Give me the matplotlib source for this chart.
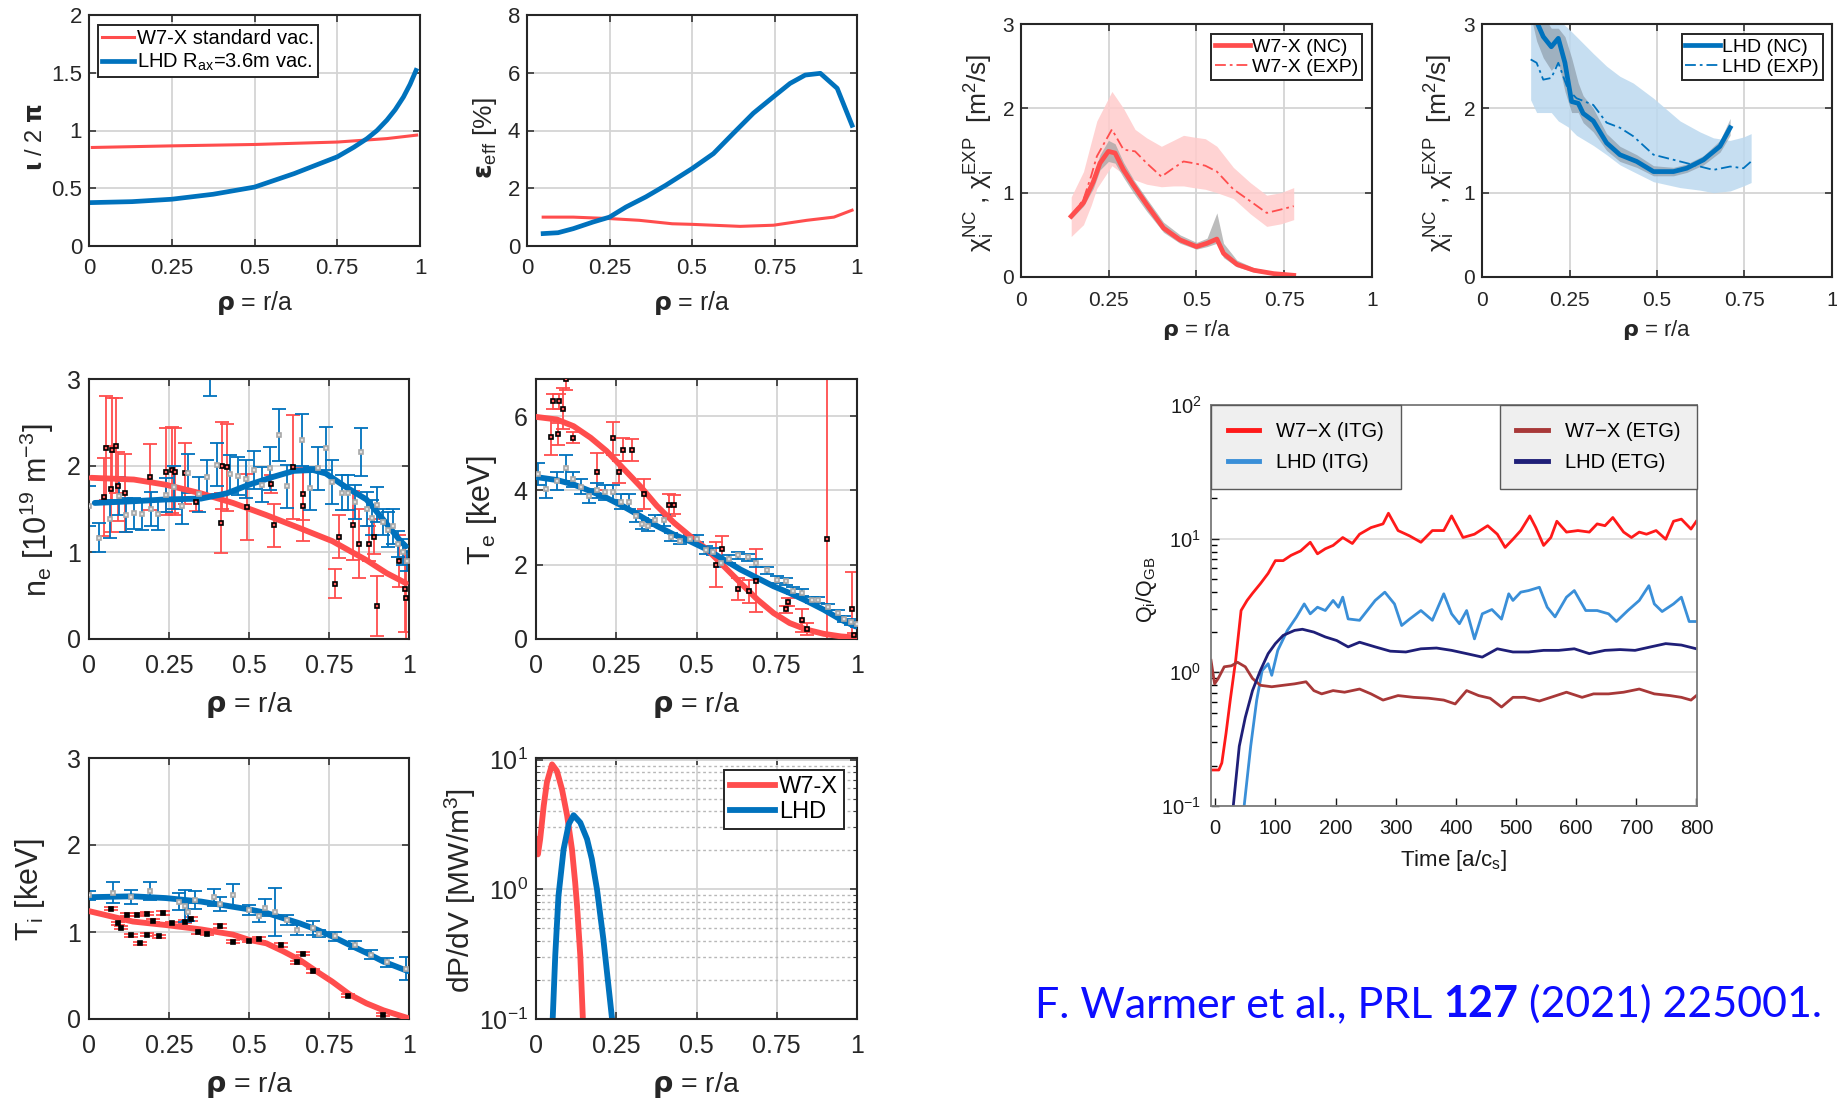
import matplotlib
matplotlib.use("Agg")
import matplotlib.pyplot as plt
from matplotlib.offsetbox import TextArea, HPacker, AnchoredOffsetbox
from matplotlib.ticker import LogLocator, NullFormatter

plt.rcParams['font.family'] = ['Liberation Sans', 'DejaVu Sans']
plt.rcParams['mathtext.default'] = 'regular'

# ---------------------------------------------------------------- data
# rotational transform
rho_iota_w7x = [0.01, 0.25, 0.5, 0.75, 0.9, 0.99]
iota_w7x = [0.853, 0.867, 0.879, 0.90, 0.93, 0.96]
rho_iota_lhd = [0.01, 0.13, 0.25, 0.375, 0.5, 0.62, 0.75, 0.8, 0.84, 0.87, 0.9, 0.925, 0.95, 0.97, 0.988]
iota_lhd = [0.376, 0.384, 0.405, 0.448, 0.51, 0.627, 0.772, 0.855, 0.93, 1.0, 1.09, 1.18, 1.29, 1.40, 1.52]

# effective ripple
rho_eps = [0.049, 0.094, 0.14, 0.2, 0.25, 0.30, 0.36, 0.42, 0.50, 0.565, 0.625, 0.686, 0.747, 0.797, 0.843, 0.889, 0.94, 0.985]
eps_lhd = [0.43, 0.46, 0.6, 0.83, 1.0, 1.35, 1.7, 2.1, 2.68, 3.2, 3.9, 4.6, 5.17, 5.63, 5.92, 5.98, 5.46, 4.18]
rho_eps_w7x = [0.049, 0.14, 0.25, 0.34, 0.44, 0.5, 0.646, 0.747, 0.848, 0.93, 0.985]
eps_w7x = [1.0, 1.0, 0.95, 0.89, 0.77, 0.75, 0.68, 0.72, 0.89, 1.0, 1.24]

# electron density
rho_ne_fit_w7x = [0.007, 0.14, 0.24, 0.35, 0.45, 0.554, 0.658, 0.76, 0.867, 0.93, 0.99]
ne_fit_w7x = [1.86, 1.84, 1.78, 1.68, 1.57, 1.43, 1.28, 1.13, 0.91, 0.76, 0.645]
rho_ne_fit_lhd = [0.018, 0.14, 0.24, 0.35, 0.43, 0.5, 0.575, 0.64, 0.7, 0.74, 0.8, 0.867, 0.92, 0.97, 0.99]
ne_fit_lhd = [1.57, 1.59, 1.61, 1.62, 1.68, 1.78, 1.87, 1.94, 1.95, 1.91, 1.76, 1.61, 1.375, 1.145, 1.07]
rho_ne_w7x = [0.046, 0.052, 0.07, 0.072, 0.083, 0.09, 0.114, 0.19, 0.24, 0.26, 0.27, 0.30, 0.333,
              0.411, 0.415, 0.43, 0.494, 0.57, 0.577, 0.637, 0.67, 0.67, 0.77, 0.78, 0.825, 0.845,
              0.875, 0.89, 0.90, 0.97, 0.986, 0.99]
ne_w7x = [1.64, 2.2, 1.73, 2.18, 2.23, 1.76, 1.69, 1.87, 1.93, 1.95, 1.93, 1.91, 1.58,
          1.34, 2.0, 1.98, 1.52, 1.79, 1.31, 1.98, 1.67, 1.53, 0.64, 1.18, 1.31, 1.1,
          1.1, 1.18, 0.38, 0.9, 0.58, 0.47]
ne_err_w7x = [0.45, 0.6, 0.5, 0.6, 0.55, 0.4, 0.45, 0.38, 0.5, 0.5, 0.5, 0.35, 0.1,
              0.35, 0.5, 0.5, 0.38, 0.1, 0.25, 0.6, 0.3, 0.4, 0.17, 0.25, 0.4, 0.4,
              0.2, 0.2, 0.35, 0.3, 0.5, 0.47]
rho_ne_lhd = [0.0, 0.03, 0.065, 0.095, 0.115, 0.14, 0.165, 0.195, 0.215, 0.24, 0.265, 0.29, 0.31,
              0.345, 0.37, 0.378, 0.40, 0.44, 0.465, 0.49, 0.515, 0.54, 0.565, 0.595, 0.62, 0.665,
              0.69, 0.715, 0.74, 0.76, 0.79, 0.81, 0.83, 0.85, 0.87, 0.885, 0.90, 0.92, 0.935,
              0.95, 0.965, 0.98, 0.995]
ne_lhd = [1.53, 1.17, 1.38, 1.65, 1.43, 1.45, 1.44, 1.5, 1.44, 1.66, 1.75, 1.53, 1.91,
          1.67, 1.87, 3.2, 2.01, 1.9, 1.88, 1.85, 1.95, 1.78, 1.97, 2.35, 1.76, 2.3,
          1.74, 1.97, 2.2, 1.81, 1.69, 1.69, 1.58, 2.16, 1.5, 1.4, 1.55, 1.35, 1.26,
          1.3, 1.1, 1.0, 0.9]
ne_err_lhd = [0.23, 0.17, 0.22, 0.22, 0.2, 0.18, 0.18, 0.2, 0.18, 0.2, 0.25, 0.2, 0.22,
              0.2, 0.2, 0.4, 0.25, 0.22, 0.22, 0.22, 0.22, 0.2, 0.25, 0.3, 0.25, 0.3,
              0.25, 0.25, 0.25, 0.25, 0.2, 0.2, 0.2, 0.28, 0.2, 0.2, 0.2, 0.15, 0.2,
              0.2, 0.15, 0.15, 0.12]

# electron temperature
rho_te_fit = [0.0, 0.065, 0.117, 0.17, 0.22, 0.27, 0.325, 0.377, 0.43, 0.48, 0.533, 0.585, 0.637,
              0.69, 0.74, 0.79, 0.844, 0.896, 0.95, 0.995]
te_fit_w7x = [5.98, 5.91, 5.73, 5.42, 5.06, 4.61, 4.11, 3.58, 3.13, 2.77, 2.41, 1.96, 1.51,
              1.06, 0.70, 0.43, 0.25, 0.14, 0.07, 0.04]
te_fit_lhd = [4.36, 4.28, 4.16, 3.98, 3.8, 3.58, 3.31, 3.04, 2.81, 2.63, 2.41, 2.14, 1.87,
              1.64, 1.42, 1.24, 1.02, 0.79, 0.52, 0.34]
rho_te_w7x = [0.048, 0.052, 0.07, 0.072, 0.085, 0.092, 0.115, 0.19, 0.24, 0.26, 0.27, 0.30, 0.335,
              0.415, 0.43, 0.56, 0.58, 0.63, 0.665, 0.685, 0.78, 0.785, 0.83, 0.845, 0.905,
              0.985, 0.99]
te_w7x = [5.45, 6.4, 5.52, 6.4, 6.2, 7.0, 5.42, 4.5, 5.4, 4.49, 5.1, 5.08, 3.9,
          3.6, 3.62, 2.0, 2.42, 1.35, 1.28, 1.57, 0.8, 1.0, 0.5, 0.27, 2.7,
          0.8, 0.1]
te_err_w7x = [0.5, 0.2, 0.3, 0.2, 0.55, 0.3, 0.15, 0.5, 0.45, 0.3, 0.3, 0.3, 0.4,
              0.3, 0.25, 0.6, 0.35, 0.3, 0.3, 0.85, 0.1, 0.1, 0.3, 0.15, 4.5,
              1.0, 0.05]
rho_te_lhd = [0.005, 0.03, 0.065, 0.095, 0.115, 0.14, 0.165, 0.19, 0.215, 0.24, 0.265, 0.29, 0.31,
              0.33, 0.35, 0.37, 0.40, 0.42, 0.45, 0.48, 0.50, 0.53, 0.55, 0.575, 0.60, 0.63,
              0.66, 0.685, 0.72, 0.75, 0.78, 0.80, 0.83, 0.86, 0.88, 0.91, 0.94, 0.96, 0.98, 1.0]
te_lhd = [4.45, 4.05, 4.25, 4.6, 4.3, 4.1, 3.85, 4.0, 3.95, 3.95, 3.7, 3.7, 3.3,
          3.1, 3.05, 3.2, 3.2, 2.75, 2.65, 2.7, 2.7, 2.4, 2.35, 2.05, 2.15, 2.25,
          2.2, 2.05, 1.85, 1.6, 1.55, 1.3, 1.25, 1.05, 1.05, 0.85, 0.7, 0.55, 0.45, 0.4]
te_err_lhd = [0.3, 0.25, 0.25, 0.35, 0.2, 0.2, 0.2, 0.2, 0.2, 0.2, 0.2, 0.2, 0.15,
              0.15, 0.15, 0.15, 0.15, 0.1, 0.1, 0.1, 0.1, 0.1, 0.1, 0.1, 0.1, 0.1,
              0.1, 0.1, 0.1, 0.1, 0.1, 0.1, 0.1, 0.08, 0.08, 0.08, 0.08, 0.08, 0.08, 0.08]

# ion temperature
rho_ti_fit = [0.0, 0.1375, 0.24, 0.35, 0.45, 0.5, 0.554, 0.606, 0.658, 0.71, 0.76, 0.815, 0.867, 0.92, 0.997]
ti_fit_w7x = [1.24, 1.12, 1.08, 1.03, 0.97, 0.91, 0.87, 0.78, 0.68, 0.55, 0.43, 0.28, 0.18, 0.1, 0.01]
ti_fit_lhd = [1.40, 1.41, 1.39, 1.35, 1.29, 1.26, 1.22, 1.16, 1.10, 1.03, 0.95, 0.85, 0.76, 0.66, 0.55]
rho_ti_w7x = [0.07, 0.09, 0.10, 0.12, 0.13, 0.15, 0.16, 0.18, 0.18, 0.2, 0.22, 0.23, 0.26, 0.3,
              0.32, 0.34, 0.37, 0.41, 0.45, 0.5, 0.53, 0.6, 0.65, 0.67, 0.7, 0.81, 0.92]
ti_w7x = [1.27, 1.1, 1.05, 1.2, 0.96, 1.2, 0.87, 0.97, 1.21, 1.13, 0.95, 1.22, 1.1, 1.12,
          1.15, 1.0, 0.98, 1.07, 0.89, 0.9, 0.92, 0.85, 0.65, 0.75, 0.55, 0.27, 0.05]
ti_err_w7x = [0.02] * len(ti_w7x)
rho_ti_lhd = [0.0, 0.075, 0.13, 0.19, 0.28, 0.30, 0.31, 0.33, 0.39, 0.41, 0.45, 0.5, 0.53, 0.55,
              0.58, 0.62, 0.65, 0.7, 0.72, 0.77, 0.83, 0.88, 0.93, 0.99]
ti_lhd = [1.42, 1.45, 1.4, 1.47, 1.35, 1.3, 1.23, 1.37, 1.4, 1.32, 1.42, 1.25, 1.18, 1.28,
          1.23, 1.14, 1.02, 1.05, 0.98, 0.95, 0.85, 0.74, 0.65, 0.58]
ti_err_lhd = [0.05, 0.12, 0.08, 0.1, 0.1, 0.18, 0.1, 0.1, 0.1, 0.08, 0.13, 0.06, 0.06, 0.1,
              0.28, 0.06, 0.06, 0.08, 0.04, 0.05, 0.05, 0.05, 0.05, 0.13]

# heating power density
rho_p_w7x = [0.0, 0.006, 0.013, 0.024, 0.034, 0.05, 0.065, 0.081, 0.097, 0.112, 0.122, 0.128, 0.138, 0.146]
p_w7x = [2.44, 1.86, 2.44, 4.4, 6.7, 9.2, 8.2, 5.9, 3.7, 2.04, 1.13, 0.74, 0.306, 0.1]
rho_p_lhd = [0.052, 0.06, 0.07, 0.086, 0.102, 0.117, 0.138, 0.159, 0.174, 0.19, 0.21, 0.237]
p_lhd = [0.1, 0.31, 0.89, 2.04, 3.18, 3.73, 3.27, 2.44, 1.71, 1.0, 0.41, 0.1]

# ion heat diffusivities, W7-X
rho_nc_w7x = [0.143, 0.178, 0.206, 0.225, 0.249, 0.268, 0.292, 0.32, 0.358, 0.406, 0.453, 0.5, 0.53,
              0.558, 0.577, 0.615, 0.663, 0.72, 0.777]
chi_nc_w7x = [0.72, 0.88, 1.13, 1.35, 1.49, 1.47, 1.27, 1.09, 0.86, 0.58, 0.44, 0.36, 0.40,
              0.45, 0.28, 0.15, 0.08, 0.04, 0.02]
chi_nc_w7x_hi = [0.75, 0.93, 1.2, 1.45, 1.62, 1.58, 1.36, 1.16, 0.93, 0.65, 0.5, 0.41, 0.46,
                 0.76, 0.4, 0.2, 0.11, 0.06, 0.03]
chi_nc_w7x_lo = [0.69, 0.84, 1.05, 1.27, 1.37, 1.35, 1.18, 1.0, 0.78, 0.53, 0.4, 0.33, 0.36,
                 0.40, 0.23, 0.12, 0.06, 0.03, 0.01]
rho_exp_w7x = [0.143, 0.178, 0.2, 0.216, 0.259, 0.292, 0.325, 0.358, 0.40, 0.434, 0.463, 0.491, 0.525,
               0.558, 0.605, 0.653, 0.70, 0.74, 0.777]
chi_exp_w7x = [0.72, 0.92, 1.2, 1.43, 1.75, 1.51, 1.49, 1.35, 1.19, 1.29, 1.37, 1.35, 1.32,
               1.25, 1.04, 0.90, 0.76, 0.80, 0.84]
chi_exp_w7x_hi = [0.95, 1.25, 1.6, 1.85, 2.2, 2.0, 1.75, 1.65, 1.55, 1.62, 1.68, 1.66, 1.64,
                  1.55, 1.3, 1.12, 0.97, 1.0, 1.06]
chi_exp_w7x_lo = [0.48, 0.62, 0.85, 1.05, 1.32, 1.22, 1.15, 1.1, 1.07, 1.08, 1.08, 1.06, 1.04,
                  1.0, 0.93, 0.75, 0.6, 0.63, 0.68]

# ion heat diffusivities, LHD
rho_nc_lhd = [0.145, 0.156, 0.175, 0.198, 0.218, 0.237, 0.256, 0.275, 0.289, 0.318, 0.356, 0.394,
              0.442, 0.49, 0.547, 0.585, 0.633, 0.68, 0.709]
chi_nc_lhd = [3.25, 3.03, 2.85, 2.73, 2.83, 2.54, 2.08, 2.06, 1.94, 1.85, 1.59, 1.45,
              1.37, 1.25, 1.25, 1.29, 1.39, 1.55, 1.77]
chi_nc_lhd_hi = [3.4, 3.3, 3.1, 2.95, 2.95, 2.85, 2.6, 2.3, 2.15, 2.0, 1.7, 1.55,
                 1.45, 1.32, 1.3, 1.34, 1.44, 1.62, 1.88]
chi_nc_lhd_lo = [3.0, 2.8, 2.6, 2.45, 2.55, 2.2, 1.95, 1.95, 1.83, 1.72, 1.5, 1.37,
                 1.3, 1.2, 1.2, 1.24, 1.33, 1.48, 1.68]
rho_exp_lhd = [0.139, 0.156, 0.175, 0.198, 0.218, 0.246, 0.27, 0.318, 0.356, 0.394, 0.432, 0.49,
               0.566, 0.623, 0.661, 0.709, 0.747, 0.769]
chi_exp_lhd = [2.58, 2.54, 2.34, 2.36, 2.54, 2.22, 2.12, 2.04, 1.83, 1.77, 1.67, 1.45,
               1.37, 1.31, 1.27, 1.31, 1.29, 1.37]
chi_exp_lhd_hi = [3.2, 3.2, 3.15, 3.1, 3.05, 2.95, 2.85, 2.65, 2.5, 2.38, 2.3, 2.12,
                  1.85, 1.72, 1.65, 1.62, 1.66, 1.7]
chi_exp_lhd_lo = [2.1, 1.95, 1.95, 1.95, 1.85, 1.78, 1.68, 1.56, 1.45, 1.33, 1.25, 1.13,
                  1.06, 1.03, 1.0, 1.02, 1.08, 1.12]

# gyrokinetic heat fluxes
t_itg_w7x = [-7, 6, 11, 18, 25, 34, 43, 53, 62, 75, 88, 100, 113, 126, 142, 158, 170, 183, 196, 212,
             228, 240, 259, 279, 288, 304, 323, 342, 361, 380, 393, 412, 431, 453, 469, 482, 495,
             508, 523, 533, 546, 558, 568, 584, 603, 622, 635, 648, 661, 679, 692, 705, 717, 733,
             749, 762, 775, 791, 800]
q_itg_w7x = [0.186, 0.186, 0.21, 0.35, 0.62, 1.23, 2.9, 3.45, 3.9, 4.6, 5.5, 6.85, 6.85, 7.5, 8.1,
             9.4, 7.7, 8.4, 8.9, 10.2, 9.2, 10.8, 12.1, 12.9, 15.5, 11.5, 10.5, 9.4, 11.5, 11.5,
             14.8, 10.2, 10.8, 12.5, 10.8, 8.6, 9.9, 11.5, 14.8, 12.1, 8.9, 10.2, 13.5, 11.2,
             11.5, 11.2, 12.9, 12.5, 14.4, 11.2, 10.2, 11.2, 10.8, 11.5, 9.9, 13.5, 14.0, 11.8, 13.5]
t_itg_lhd = [47, 59, 69, 78, 88, 94, 104, 120, 135, 148, 158, 170, 183, 196, 205, 212, 221, 240, 266,
             282, 298, 310, 323, 342, 361, 380, 393, 406, 418, 431, 444, 460, 476, 488, 495, 508,
             521, 539, 552, 565, 584, 597, 616, 635, 654, 667, 686, 705, 721, 730, 743, 762, 775,
             788, 800]
q_itg_lhd = [0.09, 0.28, 0.62, 1.03, 1.16, 0.95, 1.46, 2.06, 2.59, 3.25, 2.74, 3.07, 2.9, 3.45, 3.07,
             3.65, 2.51, 2.45, 3.45, 3.98, 3.25, 2.24, 2.5, 2.9, 2.45, 3.87, 2.74, 2.31, 2.9, 1.78,
             2.74, 2.95, 2.5, 3.87, 3.45, 3.98, 4.09, 4.33, 3.07, 2.6, 3.65, 4.09, 2.9, 2.9, 2.74,
             2.4, 2.9, 3.45, 4.45, 3.25, 2.85, 3.25, 3.65, 2.4, 2.4]
t_etg_w7x = [-7, -1, 5, 15, 27, 37, 50, 62, 75, 94, 113, 132, 151, 164, 177, 196, 215, 240, 259, 279,
             304, 330, 355, 380, 399, 418, 438, 457, 476, 495, 514, 539, 558, 584, 610, 629, 654,
             679, 705, 730, 756, 775, 791, 800]
q_etg_w7x = [1.23, 0.82, 0.9, 1.1, 1.12, 1.19, 1.1, 0.9, 0.8, 0.78, 0.8, 0.82, 0.85, 0.73, 0.69, 0.73,
             0.71, 0.75, 0.69, 0.62, 0.67, 0.65, 0.64, 0.62, 0.58, 0.73, 0.67, 0.64, 0.55, 0.65,
             0.65, 0.61, 0.65, 0.71, 0.65, 0.69, 0.69, 0.71, 0.75, 0.69, 0.67, 0.65, 0.62, 0.67]
t_etg_lhd = [29, 40, 50, 62, 75, 88, 100, 113, 132, 145, 164, 183, 202, 221, 240, 266, 291, 317, 342,
             368, 393, 418, 444, 469, 495, 521, 546, 571, 597, 622, 648, 673, 698, 724, 749, 775, 800]
q_etg_lhd = [0.09, 0.28, 0.46, 0.73, 1.03, 1.38, 1.64, 1.89, 2.06, 2.1, 2.0, 1.84, 1.73, 1.55, 1.68,
             1.55, 1.44, 1.42, 1.5, 1.52, 1.46, 1.38, 1.3, 1.5, 1.42, 1.42, 1.46, 1.46, 1.5, 1.38,
             1.46, 1.48, 1.46, 1.55, 1.64, 1.6, 1.5]

rho_ticks = [0, 0.25, 0.5, 0.75, 1]
rho_ticklabels = ['0', '0.25', '0.5', '0.75', '1']
time_ticks = [0, 100, 200, 300, 400, 500, 600, 700, 800]

# ---------------------------------------------------------------- style
W, H = 1837, 1101
RED = '#ff4d4d'
BLUE = '#0072bd'
INK = '#262626'
GRID = '#d4d4d4'
DASHDOT = (0, (6, 2.2, 1.5, 2.2))

fig = plt.figure(figsize=(W / 100, H / 100), dpi=100)


def axes_px(x0, y0, x1, y1):
    return fig.add_axes([x0 / W, 1 - y1 / H, (x1 - x0) / W, (y1 - y0) / H])


def matlab_style(ax, size, xpad, ypad):
    ax.tick_params(direction='in', top=True, right=True, length=5, width=1.1,
                   labelsize=size, colors=INK)
    ax.tick_params(axis='x', pad=xpad)
    ax.tick_params(axis='y', pad=ypad)
    ax.grid(True, color=GRID, lw=1.3)
    ax.set_axisbelow(True)
    for sp in ax.spines.values():
        sp.set_linewidth(1.5)
        sp.set_color(INK)
    ax.set_xlim(0, 1)
    ax.set_xticks(rho_ticks, rho_ticklabels)


def labels(ax, xlabel, ylabel, xsize, ysize, ylx, yly, xly):
    ax.set_xlabel(xlabel, fontsize=xsize, color=INK, va='center')
    ax.xaxis.set_label_coords(0.5, xly)
    ax.set_ylabel(ylabel, fontsize=ysize, color=INK, va='center')
    ax.yaxis.set_label_coords(ylx, yly)


def profile(ax, x, y, err, bar_color, face, edge, ms=3.5):
    ax.errorbar(x, y, yerr=err, fmt='none', ecolor=bar_color, elinewidth=1.3,
                capsize=5, capthick=1.3, zorder=2)
    ax.plot(x, y, 's', ms=ms, mfc=face, mec=edge, mew=1.2, zorder=4)


RHO = r'$\mathbf{\rho}$ = r/a'

# ---- rotational transform
ax1 = axes_px(89, 15, 420, 246)
matlab_style(ax1, 16, 9, 5)
ax1.plot(rho_iota_w7x, iota_w7x, color=RED, lw=2.2, label='W7-X standard vac.')
ax1.plot(rho_iota_lhd, iota_lhd, color=BLUE, lw=3.4, label='LHD R$_{ax}$=3.6m vac.')
ax1.set_ylim(0, 2)
ax1.set_yticks([0, 0.5, 1, 1.5, 2], ['0', '0.5', '1', '1.5', '2'])
labels(ax1, RHO, r'$\mathbf{\iota}$ / 2 $\mathbf{\pi}$', 18, 17, -0.16, 0.47, -0.245)
leg = ax1.legend(loc='upper left', bbox_to_anchor=(0.027, 0.957), fontsize=14.5,
                 frameon=True, fancybox=False, edgecolor=INK, framealpha=1,
                 borderpad=0.2, labelspacing=0.2, handlelength=1.6, handletextpad=0.15,
                 borderaxespad=0)
leg.get_frame().set_linewidth(1.4)

# ---- effective ripple
ax2 = axes_px(527, 15, 857, 246)
matlab_style(ax2, 16, 9, 5)
ax2.plot(rho_eps_w7x, eps_w7x, color=RED, lw=2.2)
ax2.plot(rho_eps, eps_lhd, color=BLUE, lw=3.4)
ax2.set_ylim(0, 8)
ax2.set_yticks([0, 2, 4, 6, 8])
labels(ax2, RHO, r'$\mathbf{\varepsilon}_{eff}$ [%]', 18, 19, -0.128, 0.468, -0.245)

# ---- electron density
ax3 = axes_px(89, 379, 409, 639)
matlab_style(ax3, 18, 11, 6)
profile(ax3, rho_ne_w7x, ne_w7x, ne_err_w7x, RED, '#ff6060', 'black')
profile(ax3, rho_ne_lhd, ne_lhd, ne_err_lhd, BLUE, '#e0e0e0', '#a8a8a8')
ax3.plot(rho_ne_fit_w7x, ne_fit_w7x, color=RED, lw=4.2, zorder=3, solid_capstyle='round')
ax3.plot(rho_ne_fit_lhd, ne_fit_lhd, color=BLUE, lw=4.2, zorder=3, solid_capstyle='round')
ax3.set_ylim(0, 3)
ax3.set_yticks([0, 1, 2, 3])
labels(ax3, RHO, 'n$_e$ [10$^{19}$ m$^{-3}$]', 20.5, 22, -0.163, 0.496, -0.254)

# ---- electron temperature
ax4 = axes_px(536, 379, 857, 639)
matlab_style(ax4, 18, 11, 6)
profile(ax4, rho_te_w7x, te_w7x, te_err_w7x, RED, '#ff6060', 'black')
profile(ax4, rho_te_lhd, te_lhd, te_err_lhd, BLUE, '#e0e0e0', '#a8a8a8')
ax4.plot(rho_te_fit, te_fit_w7x, color=RED, lw=4.2, zorder=3, solid_capstyle='round')
ax4.plot(rho_te_fit, te_fit_lhd, color=BLUE, lw=4.2, zorder=3, solid_capstyle='round')
ax4.set_ylim(0, 7)
ax4.set_yticks([0, 2, 4, 6])
labels(ax4, RHO, 'T$_e$ [keV]', 20.5, 22, -0.168, 0.496, -0.254)

# ---- ion temperature
ax5 = axes_px(89, 758, 409, 1019)
matlab_style(ax5, 18, 11, 6)
profile(ax5, rho_ti_w7x, ti_w7x, ti_err_w7x, RED, 'black', 'black', ms=2.8)
profile(ax5, rho_ti_lhd, ti_lhd, ti_err_lhd, BLUE, '#e0e0e0', '#a8a8a8', ms=3)
ax5.plot(rho_ti_fit, ti_fit_w7x, color=RED, lw=4.2, zorder=3, solid_capstyle='round')
ax5.plot(rho_ti_fit, ti_fit_lhd, color=BLUE, lw=4.2, zorder=3, solid_capstyle='round')
ax5.set_ylim(0, 3)
ax5.set_yticks([0, 1, 2, 3])
labels(ax5, RHO, 'T$_i$ [keV]', 20.5, 22, -0.184, 0.494, -0.253)

# ---- heating power density
ax6 = axes_px(536, 758, 857, 1019)
matlab_style(ax6, 18, 11, 6)
ax6.set_yscale('log')
ax6.set_ylim(0.1, 10.3)
ax6.yaxis.set_major_locator(LogLocator(base=10, numticks=5))
ax6.yaxis.set_minor_locator(LogLocator(base=10, subs=range(2, 10), numticks=20))
ax6.yaxis.set_minor_formatter(NullFormatter())
ax6.tick_params(which='minor', direction='in', length=3, right=True, color=INK)
ax6.grid(True, which='minor', axis='y', color='#b8b8b8', lw=1.0, ls=(0, (2, 2)))
ax6.plot(rho_p_w7x, p_w7x, color=RED, lw=4.2, label='W7-X')
ax6.plot(rho_p_lhd, p_lhd, color=BLUE, lw=4.2, label='LHD')
labels(ax6, RHO, 'dP/dV [MW/m$^3$]', 20.5, 21.5, -0.237, 0.494, -0.253)
leg = ax6.legend(loc='upper right', bbox_to_anchor=(0.96, 0.954), fontsize=17,
                 frameon=True, fancybox=False, edgecolor=INK, framealpha=1,
                 borderpad=0.25, labelspacing=0.15, handlelength=1.9, handletextpad=0.2,
                 borderaxespad=0)
leg.get_frame().set_linewidth(1.4)

# ---- ion diffusivity W7-X
CHI_LABEL = 'χ$_i^{NC}$ , χ$_i^{EXP}$  [m$^2$/s]'
ax7 = axes_px(1021, 24, 1372, 277)
matlab_style(ax7, 15, 10, 5)
ax7.fill_between(rho_exp_w7x, chi_exp_w7x_lo, chi_exp_w7x_hi, color='#ffcccc', alpha=0.85, lw=0)
ax7.fill_between(rho_nc_w7x, chi_nc_w7x_lo, chi_nc_w7x_hi, color='#a0a0a0', alpha=0.7, lw=0)
ax7.plot(rho_nc_w7x, chi_nc_w7x, color=RED, lw=3.4, label='W7-X (NC)')
ax7.plot(rho_exp_w7x, chi_exp_w7x, color=RED, lw=1.3, ls=DASHDOT, label='W7-X (EXP)')
ax7.set_ylim(0, 3)
ax7.set_yticks([0, 1, 2, 3])
labels(ax7, RHO, CHI_LABEL, 16, 19, -0.117, 0.49, -0.21)
leg = ax7.legend(loc='upper right', bbox_to_anchor=(0.9715, 0.96), fontsize=14,
                 frameon=True, fancybox=False, edgecolor=INK, framealpha=1,
                 borderpad=0.2, labelspacing=0.15, handlelength=1.8, handletextpad=0.1,
                 borderaxespad=0)
leg.get_frame().set_linewidth(1.4)

# ---- ion diffusivity LHD
ax8 = axes_px(1482, 24, 1832, 277)
matlab_style(ax8, 15, 10, 5)
ax8.fill_between(rho_exp_lhd, chi_exp_lhd_lo, chi_exp_lhd_hi, color='#bcd9ef', alpha=0.85, lw=0)
ax8.fill_between(rho_nc_lhd, chi_nc_lhd_lo, chi_nc_lhd_hi, color='#7f8c99', alpha=0.55, lw=0)
ax8.plot(rho_nc_lhd, chi_nc_lhd, color=BLUE, lw=3.4, label='LHD (NC)')
ax8.plot(rho_exp_lhd, chi_exp_lhd, color=BLUE, lw=1.3, ls=DASHDOT, label='LHD (EXP)')
ax8.set_ylim(0, 3)
ax8.set_yticks([0, 1, 2, 3])
labels(ax8, RHO, CHI_LABEL, 16, 19, -0.12, 0.49, -0.21)
leg = ax8.legend(loc='upper right', bbox_to_anchor=(0.974, 0.96), fontsize=14,
                 frameon=True, fancybox=False, edgecolor=INK, framealpha=1,
                 borderpad=0.2, labelspacing=0.15, handlelength=1.8, handletextpad=0.1,
                 borderaxespad=0)
leg.get_frame().set_linewidth(1.4)

# ---- gyrokinetic heat flux time traces
ax9 = axes_px(1211, 405, 1697, 806)
ax9.set_yscale('log')
ax9.set_xlim(-7, 801)
ax9.set_ylim(0.1, 100)
ax9.set_xticks(time_ticks)
ax9.yaxis.set_major_locator(LogLocator(base=10, numticks=5))
ax9.yaxis.set_minor_locator(LogLocator(base=10, subs=range(2, 10), numticks=20))
ax9.yaxis.set_minor_formatter(NullFormatter())
ax9.tick_params(direction='in', length=6, width=1.0, labelsize=14.5, colors='#1a1a1a',
                top=False, right=False)
ax9.tick_params(axis='x', pad=9)
ax9.tick_params(axis='y', pad=7)
ax9.tick_params(which='minor', direction='in', length=4, width=1.0, left=True, right=False)
ax9.yaxis.grid(True, which='major', color='#d9d9d9', lw=1.2)
ax9.set_axisbelow(True)
for sp in ax9.spines.values():
    sp.set_linewidth(1.3)
    sp.set_color('#7a7a7a')
l_w_itg, = ax9.plot(t_itg_w7x, q_itg_w7x, color='#ff1a1a', lw=2.0)
l_l_itg, = ax9.plot(t_itg_lhd, q_itg_lhd, color='#3a8fd8', lw=2.0)
l_w_etg, = ax9.plot(t_etg_w7x, q_etg_w7x, color='#a83838', lw=2.0)
l_l_etg, = ax9.plot(t_etg_lhd, q_etg_lhd, color='#1f1f78', lw=2.0)
ax9.set_xlabel('Time [a/c$_s$]', fontsize=16, color='#1a1a1a', va='center')
ax9.xaxis.set_label_coords(0.499, -0.135)
ax9.set_ylabel('Q$_i$/Q$_{GB}$', fontsize=15.5, color='#1a1a1a', va='center')
ax9.yaxis.set_label_coords(-0.132, 0.539)

legend_kw = dict(fontsize=14.5, frameon=True, fancybox=False, framealpha=1,
                 facecolor='#efefef', edgecolor='#5a5a5a', borderpad=0.83,
                 labelspacing=0.63, handlelength=1.55, handletextpad=0.85, borderaxespad=0)
leg_itg = ax9.legend([l_w_itg, l_l_itg], ['W7−X (ITG)', 'LHD (ITG)'], loc='upper left',
                     bbox_to_anchor=(0, 1), **legend_kw)
for h in leg_itg.legend_handles:
    h.set_linewidth(3.5)
ax9.add_artist(leg_itg)
leg_etg = ax9.legend([l_w_etg, l_l_etg], ['W7−X (ETG)', 'LHD (ETG)'], loc='upper right',
                     bbox_to_anchor=(1, 1), **legend_kw)
for h in leg_etg.legend_handles:
    h.set_linewidth(3.5)

# ---- reference line
cite = dict(family='Lato', size=31, color='#0d0dff')
parts = [TextArea('F. Warmer et al., PRL', textprops=cite),
         TextArea('127', textprops=dict(cite, weight='bold')),
         TextArea('(2021) 225001.', textprops=cite)]
packed = HPacker(children=parts, align='baseline', pad=0, sep=8)
fig.add_artist(AnchoredOffsetbox(loc='lower left', child=packed, pad=0, borderpad=0,
                                 frameon=False, bbox_to_anchor=(1035 / W, 1 - 1024 / H),
                                 bbox_transform=fig.transFigure))

fig.savefig('out.png', dpi=100, facecolor='white')
